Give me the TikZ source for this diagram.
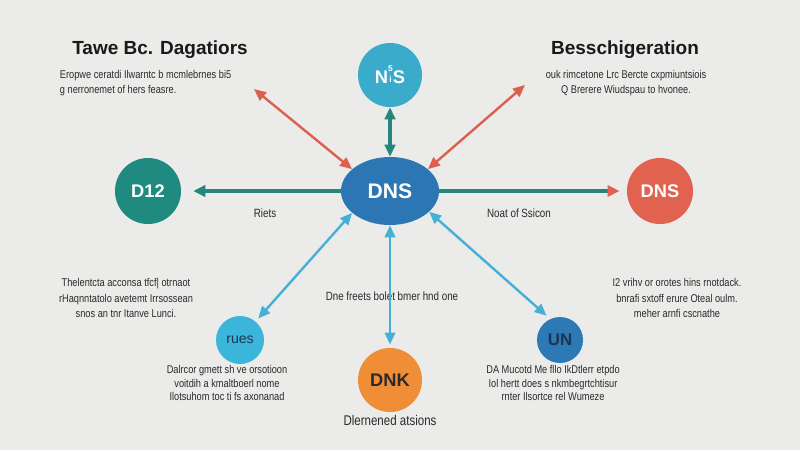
\documentclass[tikz,border=0pt]{standalone}
\usepackage{fontspec}
\setmainfont{Liberation Sans}
\newfontfamily\narrowfont{Liberation Sans}[FakeStretch=0.82]
\usetikzlibrary{arrows.meta, positioning, shapes.geometric}
\definecolor{bgpanel}{HTML}{EBEBEA}
\definecolor{inkgray}{HTML}{2A2A2A}
\definecolor{hubblue}{HTML}{2C76B3}
\definecolor{nscyan}{HTML}{3AABCB}
\definecolor{dteal}{HTML}{1E8A80}
\definecolor{dnsred}{HTML}{E1624F}
\definecolor{ruescyan}{HTML}{3BB5D9}
\definecolor{unblue}{HTML}{2D79B5}
\definecolor{dnkorange}{HTML}{F08E38}
\definecolor{navyink}{HTML}{1D3550}
\definecolor{linkteal}{HTML}{25877B}
\definecolor{linkred}{HTML}{DD5F4E}
\definecolor{linkcyan}{HTML}{45AFD6}
\tikzset{
  bubble/.style={
    circle, fill=#1, minimum size=1.65cm, inner sep=0pt,
    font=\bfseries\fontsize{13}{13}\selectfont, text=white
  },
  bubble/.default=nscyan,
  headline/.style={font=\bfseries\fontsize{13.5}{16}\selectfont, text=black!90},
  blurb/.style={font=\narrowfont\fontsize{8}{11}\selectfont, align=center, text=inkgray},
  tag/.style={font=\narrowfont\fontsize{8.5}{10}\selectfont, text=inkgray},
  teallink/.style={line width=2.2pt, color=linkteal},
  redlink/.style={{Triangle[length=3mm, width=2.6mm]}-{Triangle[length=3mm, width=2.6mm]}, line width=1.7pt, color=linkred},
  cyanlink/.style={{Triangle[length=3mm, width=2.6mm]}-{Triangle[length=3mm, width=2.6mm]}, line width=1.7pt, color=linkcyan}
}
\begin{document}
\begin{tikzpicture}[x=0.025cm, y=-0.025cm]
    \fill[bgpanel] (0,0) rectangle (800,450);
    \useasboundingbox (0,0) rectangle (800,450);

    % centre and satellites
    \node[ellipse, fill=hubblue, minimum width=2.45cm, minimum height=1.7cm,
          inner sep=0pt, text=white, font=\bfseries\fontsize{15}{15}\selectfont] (hub) at (390,191) {DNS};
    \node[bubble=nscyan, minimum size=1.6cm] (ns) at (390,75)
      {N\raisebox{0.2ex}{\fontsize{6}{6}\selectfont\shortstack{5\\i}}S};
    \node[bubble=dteal] (dtwelve) at (148,191) {D12};
    \node[bubble=dnsred] (dnsr) at (660,191) {DNS};
    \node[bubble=ruescyan, minimum size=1.2cm, text=navyink,
          font=\fontsize{10}{10}\selectfont] (rues) at (240,340) {rues};
    \node[bubble=unblue, minimum size=1.15cm, text=navyink,
          font=\bfseries\fontsize{12}{12}\selectfont] (un) at (560,340) {UN};
    \node[bubble=dnkorange, minimum size=1.6cm, text=inkgray] (dnk) at (390,380) {DNK};

    % headings
    \node[headline] (lhead) at (160,50) {Tawe Bc. Dagatiors};
    \node[blurb, align=left, anchor=west] (lsub) at (55,83)
      {Eropwe ceratdi Ilwarntc b mcmlebrnes bi5\\g nerronemet of hers feasre.};
    \node[headline] (rhead) at (625,50) {Besschigeration};
    \node[blurb] (rsub) at (626,83)
      {ouk rimcetone Lrc Bercte cxpmiuntsiois\\Q Brerere Wiudspau to hvonee.};

    % side notes
    \node[blurb] (lnote) at (126,298)
      {Thelentcta acconsa tfcf| otrnaot\\rHaqnntatolo avetemt Irrsossean\\snos an tnr Itanve Lunci.};
    \node[blurb] (rnote) at (677,298)
      {I2 vrihv or orotes hins rnotdack.\\bnrafi sxtoff erure Oteal oulm.\\meher arnfi cscnathe};
    \node[blurb, font=\narrowfont\fontsize{8}{9.5}\selectfont] (blnote) at (227,383)
      {Dalrcor gmett sh ve orsotioon\\voitdih a kmaltboerl nome\\Ilotsuhom toc ti fs axonanad};
    \node[blurb, font=\narrowfont\fontsize{8}{9.5}\selectfont] (brnote) at (553,383)
      {DA Mucotd Me fllo IkDtlerr etpdo\\Iol hertt does s nkmbegrtchtisur\\rnter Ilsortce rel Wumeze};
    \node[tag] (riets) at (265,213) {Riets};
    \node[tag] (noat) at (519,213) {Noat of Ssicon};
    \node[tag] (mid) at (392,296) {Dne freets bolet bmer hnd one};
    \node[tag, font=\narrowfont\fontsize{10}{12}\selectfont] (dlern) at (390,420) {Dlernened atsions};

    \coordinate (tlend) at (254,89);
    \coordinate (trend) at (525,85);

    % connectors
    \draw[teallink, {Triangle[length=3mm, width=2.6mm]}-{Triangle[length=3mm, width=2.6mm]}] (ns) -- (hub);
    \draw[teallink, -{Triangle[length=3mm, width=2.8mm]}, shorten >=0.3cm] (hub) -- (dtwelve);
    \draw[teallink, -{Triangle[length=3mm, width=2.8mm, color=dnsred]}, shorten >=0.18cm] (hub) -- (dnsr);
    \draw[redlink] (tlend) -- (hub.150);
    \draw[redlink] (trend) -- (hub.30);
    \draw[cyanlink, shorten >=0.1cm] (hub.210) -- (rues.50);
    \draw[cyanlink, shorten >=0.12cm] (hub.-28) -- (un.115);
    \draw[cyanlink, shorten >=0.08cm] (hub) -- (dnk);
\end{tikzpicture}
\end{document}
